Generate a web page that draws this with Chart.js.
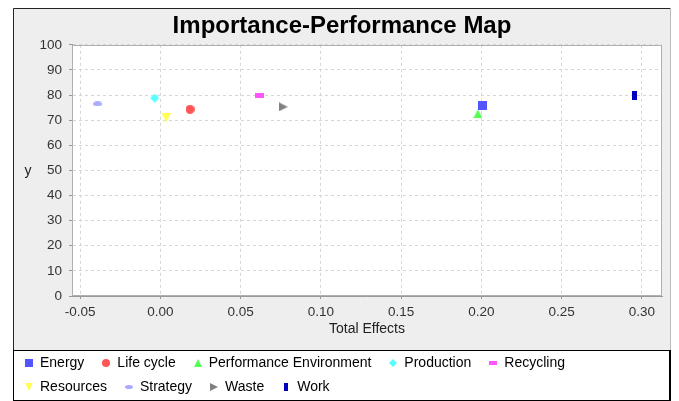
<!DOCTYPE html>
<html>
<head>
<meta charset="utf-8">
<script src="https://cdn.jsdelivr.net/npm/chart.js@4.4.1/dist/chart.umd.min.js"></script>
<style>
    html, body { margin: 0; padding: 0; background: #fff; }
    #grafico { display: block; }
</style>
</head>
<body>
<canvas id="grafico" width="679" height="401"></canvas>
<script>
// Series data
const seriesNames = ['Energy', 'Life cycle', 'Performance Environment', 'Production', 'Recycling',
                     'Resources', 'Strategy', 'Waste', 'Work'];
const totalEffects = [0.2007, 0.0185, 0.1978, -0.0035, 0.0615, 0.0037, -0.0390, 0.0766, 0.2954];
const performance = [75.9, 74.3, 72.6, 78.8, 79.8, 70.9, 76.5, 75.3, 80.0];
const seriesColors = ['#5555ff', '#ff5555', '#55ff55', '#55ffff', '#ff55ff',
                      '#ffff55', '#aaaaff', '#808080', '#0000c0'];
const seriesShapes = ['square', 'circle', 'triUp', 'diamond', 'hrect',
                      'triDown', 'hellipse', 'triRight', 'vrect'];
const xTicks = [-0.05, 0.00, 0.05, 0.10, 0.15, 0.20, 0.25, 0.30];
const yTicks = [0, 10, 20, 30, 40, 50, 60, 70, 80, 90, 100];

const FONT = '"Liberation Sans", Arial, sans-serif';

// small canvases used as point styles (JFreeChart-like shapes)
function makeMarker(kind, color, s) {
    const c = document.createElement('canvas');
    let w = s, h = s;
    if (kind === 'hrect' || kind === 'hellipse') h = Math.round(s / 2);
    if (kind === 'vrect') w = Math.round(s / 2);
    c.width = w; c.height = h;
    const g = c.getContext('2d');
    g.fillStyle = color;
    g.beginPath();
    switch (kind) {
        case 'square': case 'hrect': case 'vrect': g.rect(0, 0, w, h); break;
        case 'circle': g.arc(w / 2, h / 2, w / 2, 0, Math.PI * 2); break;
        case 'hellipse': g.ellipse(w / 2, h / 2, w / 2, h / 2, 0, 0, Math.PI * 2); break;
        case 'triUp': g.moveTo(w / 2, 0); g.lineTo(w, h); g.lineTo(0, h); break;
        case 'triDown': g.moveTo(0, 0); g.lineTo(w, 0); g.lineTo(w / 2, h); break;
        case 'triRight': g.moveTo(0, 0); g.lineTo(w, h / 2); g.lineTo(0, h); break;
        case 'diamond': g.moveTo(w / 2, 0); g.lineTo(w, h / 2); g.lineTo(w / 2, h); g.lineTo(0, h / 2); break;
    }
    g.closePath();
    g.fill();
    return c;
}

const plotMarkers = seriesNames.map((n, i) => makeMarker(seriesShapes[i], seriesColors[i], 9));
const legendMarkers = seriesNames.map((n, i) => makeMarker(seriesShapes[i], seriesColors[i], 8));

// panel backgrounds, plot frame, y label and legend
const fundoPlugin = {
    id: 'fundo',
    beforeDraw(chart) {
        const ctx = chart.ctx;
        const a = chart.chartArea;
        ctx.save();
        ctx.fillStyle = '#fff';
        ctx.fillRect(0, 0, chart.width, chart.height);
        ctx.fillStyle = '#eeeeee';
        ctx.fillRect(13, 8, 658, 342);
        ctx.fillStyle = '#fff';
        ctx.fillRect(a.left, a.top, a.right - a.left, a.bottom - a.top);
        // outer frame
        ctx.strokeStyle = '#222';
        ctx.lineWidth = 1;
        ctx.beginPath();
        ctx.moveTo(13.5, 401); ctx.lineTo(13.5, 8.5); ctx.lineTo(670.5, 8.5);
        ctx.stroke();
        ctx.strokeStyle = '#bbb';
        ctx.beginPath();
        ctx.moveTo(670.5, 8.5); ctx.lineTo(670.5, 350);
        ctx.stroke();
        // legend box
        ctx.strokeStyle = '#000';
        ctx.strokeRect(13.5, 350.5, 656, 50);
        ctx.fillStyle = '#000';
        ctx.fillRect(669, 350, 2, 51);
        ctx.restore();
    },
    beforeDatasetsDraw(chart) {
        const ctx = chart.ctx;
        const a = chart.chartArea;
        ctx.save();
        ctx.strokeStyle = '#b0b0b0';
        ctx.lineWidth = 1;
        ctx.strokeRect(Math.round(a.left) + 0.5, Math.round(a.top) + 0.5,
                       Math.round(a.right - a.left) - 1, Math.round(a.bottom - a.top) - 1);
        ctx.restore();
    },
    afterDraw(chart) {
        const ctx = chart.ctx;
        ctx.save();
        // y axis label, not rotated
        ctx.font = '14px ' + FONT;
        ctx.fillStyle = '#222';
        ctx.textAlign = 'center';
        ctx.textBaseline = 'middle';
        ctx.fillText('y', 28, 171);
        // legend
        ctx.textAlign = 'left';
        ctx.fillStyle = '#000';
        let x = 29, y = 363;
        chart.data.datasets.forEach((ds, i) => {
            const w = ctx.measureText(ds.label).width;
            if (x + 11 + w > 640) { x = 29; y += 24; }
            const img = legendMarkers[i];
            ctx.drawImage(img, Math.round(x - img.width / 2), Math.round(y - img.height / 2));
            ctx.fillText(ds.label, x + 11, y);
            x += 11 + w + 22;
        });
        ctx.restore();
    }
};

const datasets = seriesNames.map((nome, i) => ({
    label: nome,
    data: [{ x: totalEffects[i], y: performance[i] }],
    pointStyle: plotMarkers[i],
    pointRadius: 5,
    pointHoverRadius: 5,
    backgroundColor: seriesColors[i],
    borderColor: seriesColors[i]
}));

new Chart(document.getElementById('grafico'), {
    type: 'scatter',
    data: { datasets: datasets },
    plugins: [fundoPlugin],
    options: {
        responsive: false,
        animation: false,
        devicePixelRatio: 1,
        layout: { padding: { left: 13, right: 8, top: 8, bottom: 51 } },
        plugins: {
            legend: { display: false },
            tooltip: { enabled: false },
            title: {
                display: true,
                text: 'Importance-Performance Map',
                color: '#000',
                font: { family: FONT, size: 24, weight: 'bold' },
                padding: { top: 4, bottom: 4 }
            }
        },
        scales: {
            x: {
                type: 'linear',
                min: -0.055,
                max: 0.3125,
                afterBuildTicks: s => { s.ticks = xTicks.map(v => ({ value: v })); },
                afterFit: s => { s.height = 54; },
                ticks: {
                    callback: v => v.toFixed(2),
                    color: '#333',
                    font: { family: FONT, size: 13.5 },
                    padding: 5.5,
                    autoSkip: false,
                    maxRotation: 0
                },
                grid: { color: '#d6d6d6', tickColor: '#999', tickLength: 3, tickBorderDash: [] },
                border: { display: true, color: '#999', dash: [3, 3] },
                title: {
                    display: true,
                    text: 'Total Effects',
                    color: '#222',
                    font: { family: FONT, size: 14 },
                    padding: { top: 0, bottom: 12.6 }
                }
            },
            y: {
                min: 0,
                max: 100,
                afterBuildTicks: s => { s.ticks = yTicks.map(v => ({ value: v })); },
                afterFit: s => { s.width = 59; },
                ticks: {
                    color: '#333',
                    font: { family: FONT, size: 13.5 },
                    padding: 7
                },
                grid: { color: '#d6d6d6', tickColor: '#999', tickLength: 3, tickBorderDash: [] },
                border: { display: true, color: '#999', dash: [3, 3] }
            },
            // empty right axis, only keeps the plot edge where the reference has it
            y2: {
                position: 'right',
                display: true,
                afterFit: s => { s.width = 9; },
                ticks: { display: false },
                grid: { display: false },
                border: { display: false }
            }
        }
    }
});
</script>
</body>
</html>
